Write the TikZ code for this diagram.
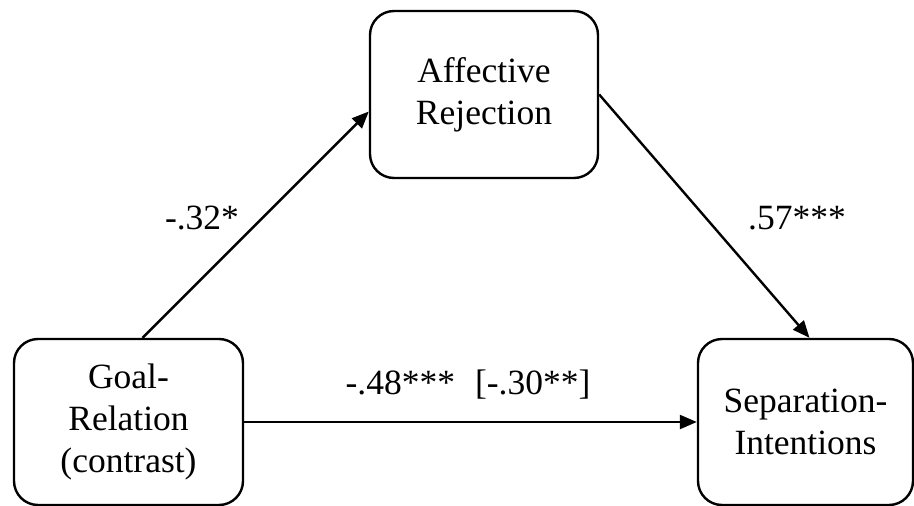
\documentclass[tikz,border=0pt]{standalone}
\usepackage{fontspec}
\setmainfont{Liberation Serif}
\usetikzlibrary{arrows.meta}

\tikzset{
  varbox/.style={draw, line width=2.4pt, rounded corners=24pt, align=center, inner sep=0pt},
  effect/.style={line width=2.4pt, -{Triangle[length=17pt,width=14pt]}},
  coef/.style={inner sep=0pt}
}

\begin{document}
\begin{tikzpicture}[x=1pt, y=-1pt, font=\fontsize{35.5}{42}\selectfont]
  \useasboundingbox (0,0) rectangle (914,506);
  % the three variables
  \node[varbox, minimum width=228pt, minimum height=167pt] (affect) at (484,94.5) {Affective\\Rejection};
  \node[varbox, minimum width=229pt, minimum height=166pt] (goal) at (128.5,422) {Goal-\\Relation\\(contrast)};
  \node[varbox, minimum width=215pt, minimum height=166pt] (separ) at (805.5,422) {Separation-\\Intentions};
  % paths
  \draw[effect] ([xshift=14pt]goal.north) -- ([yshift=-17pt]affect.west);
  \draw[effect] (affect.east) -- ([xshift=4pt]separ.north);
  \draw[effect] (goal.east) -- (separ.west);
  % coefficients
  \node[coef] (a) at (202,218) {-.32*};
  \node[coef] (b) at (797,218) {.57***};
  \node[coef] (c) at (468,385) {-.48***\hspace{20pt}[-.30**]};
\end{tikzpicture}
\end{document}
